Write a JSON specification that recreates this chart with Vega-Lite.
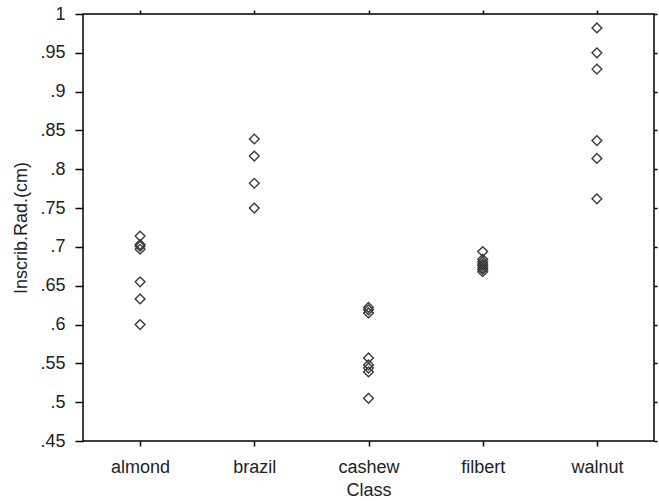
{
  "$schema": "https://vega.github.io/schema/vega-lite/v6.json",
  "autosize": "none",
  "width": 571,
  "height": 427,
  "padding": {"left": 83, "top": 14, "right": 5, "bottom": 60},
  "background": "white",
  "config": {
    "view": {"stroke": "black", "strokeWidth": 1.5},
    "font": "Liberation Sans",
    "axis": {"grid": false, "domainColor": "black", "tickColor": "black", "labelColor": "#222", "titleColor": "#222", "labelFont": "Liberation Sans", "titleFont": "Liberation Sans", "titleFontWeight": "normal"}
  },
  "data": {"values": [
    {"Class": "almond", "v": 0.714}, {"Class": "almond", "v": 0.703}, {"Class": "almond", "v": 0.701}, {"Class": "almond", "v": 0.697}, {"Class": "almond", "v": 0.655}, {"Class": "almond", "v": 0.633}, {"Class": "almond", "v": 0.6},
    {"Class": "brazil", "v": 0.839}, {"Class": "brazil", "v": 0.817}, {"Class": "brazil", "v": 0.782}, {"Class": "brazil", "v": 0.75},
    {"Class": "cashew", "v": 0.622}, {"Class": "cashew", "v": 0.619}, {"Class": "cashew", "v": 0.615}, {"Class": "cashew", "v": 0.557}, {"Class": "cashew", "v": 0.548}, {"Class": "cashew", "v": 0.544}, {"Class": "cashew", "v": 0.539}, {"Class": "cashew", "v": 0.505},
    {"Class": "filbert", "v": 0.694}, {"Class": "filbert", "v": 0.684}, {"Class": "filbert", "v": 0.681}, {"Class": "filbert", "v": 0.678}, {"Class": "filbert", "v": 0.676}, {"Class": "filbert", "v": 0.673}, {"Class": "filbert", "v": 0.671}, {"Class": "filbert", "v": 0.668},
    {"Class": "walnut", "v": 0.982}, {"Class": "walnut", "v": 0.95}, {"Class": "walnut", "v": 0.929}, {"Class": "walnut", "v": 0.837}, {"Class": "walnut", "v": 0.814}, {"Class": "walnut", "v": 0.762}
  ]},
  "layer": [
    {
      "mark": {"type": "point", "shape": "diamond", "filled": false, "stroke": "#3a3a3a", "strokeWidth": 1.4, "size": 95, "opacity": 1},
      "encoding": {
        "x": {"field": "Class", "type": "nominal", "scale": {"paddingInner": 0, "paddingOuter": 0.5}, "axis": {"title": "Class", "labelAngle": 0, "labelFontSize": 18, "titleFontSize": 18, "tickSize": 5, "tickWidth": 1.5, "domain": false, "labelPadding": 12, "titlePadding": 5}},
        "y": {"field": "v", "type": "quantitative", "scale": {"domain": [0.45, 1], "nice": false, "zero": false}, "axis": {"title": "Inscrib.Rad.(cm)", "values": [0.45, 0.5, 0.55, 0.6, 0.65, 0.7, 0.75, 0.8, 0.85, 0.9, 0.95, 1], "labelExpr": "replace(format(datum.value, '.2~f'), '0.', '.')", "labelFontSize": 18, "titleFontSize": 18, "tickSize": 8, "tickWidth": 1.5, "domain": false, "labelPadding": 10, "titlePadding": 9}}
      }
    },
    {
      "mark": {"type": "point", "opacity": 0},
      "encoding": {
        "x": {"field": "Class", "type": "nominal", "axis": {"orient": "top", "title": null, "labels": false, "tickSize": 4, "tickWidth": 1.5, "domain": false}},
        "y": {"field": "v", "type": "quantitative", "axis": {"orient": "right", "title": null, "labels": false, "values": [0.45, 0.5, 0.55, 0.6, 0.65, 0.7, 0.75, 0.8, 0.85, 0.9, 0.95, 1], "tickSize": 3, "tickWidth": 1.5, "domain": false}}
      }
    }
  ],
  "resolve": {"axis": {"x": "independent", "y": "independent"}}
}
